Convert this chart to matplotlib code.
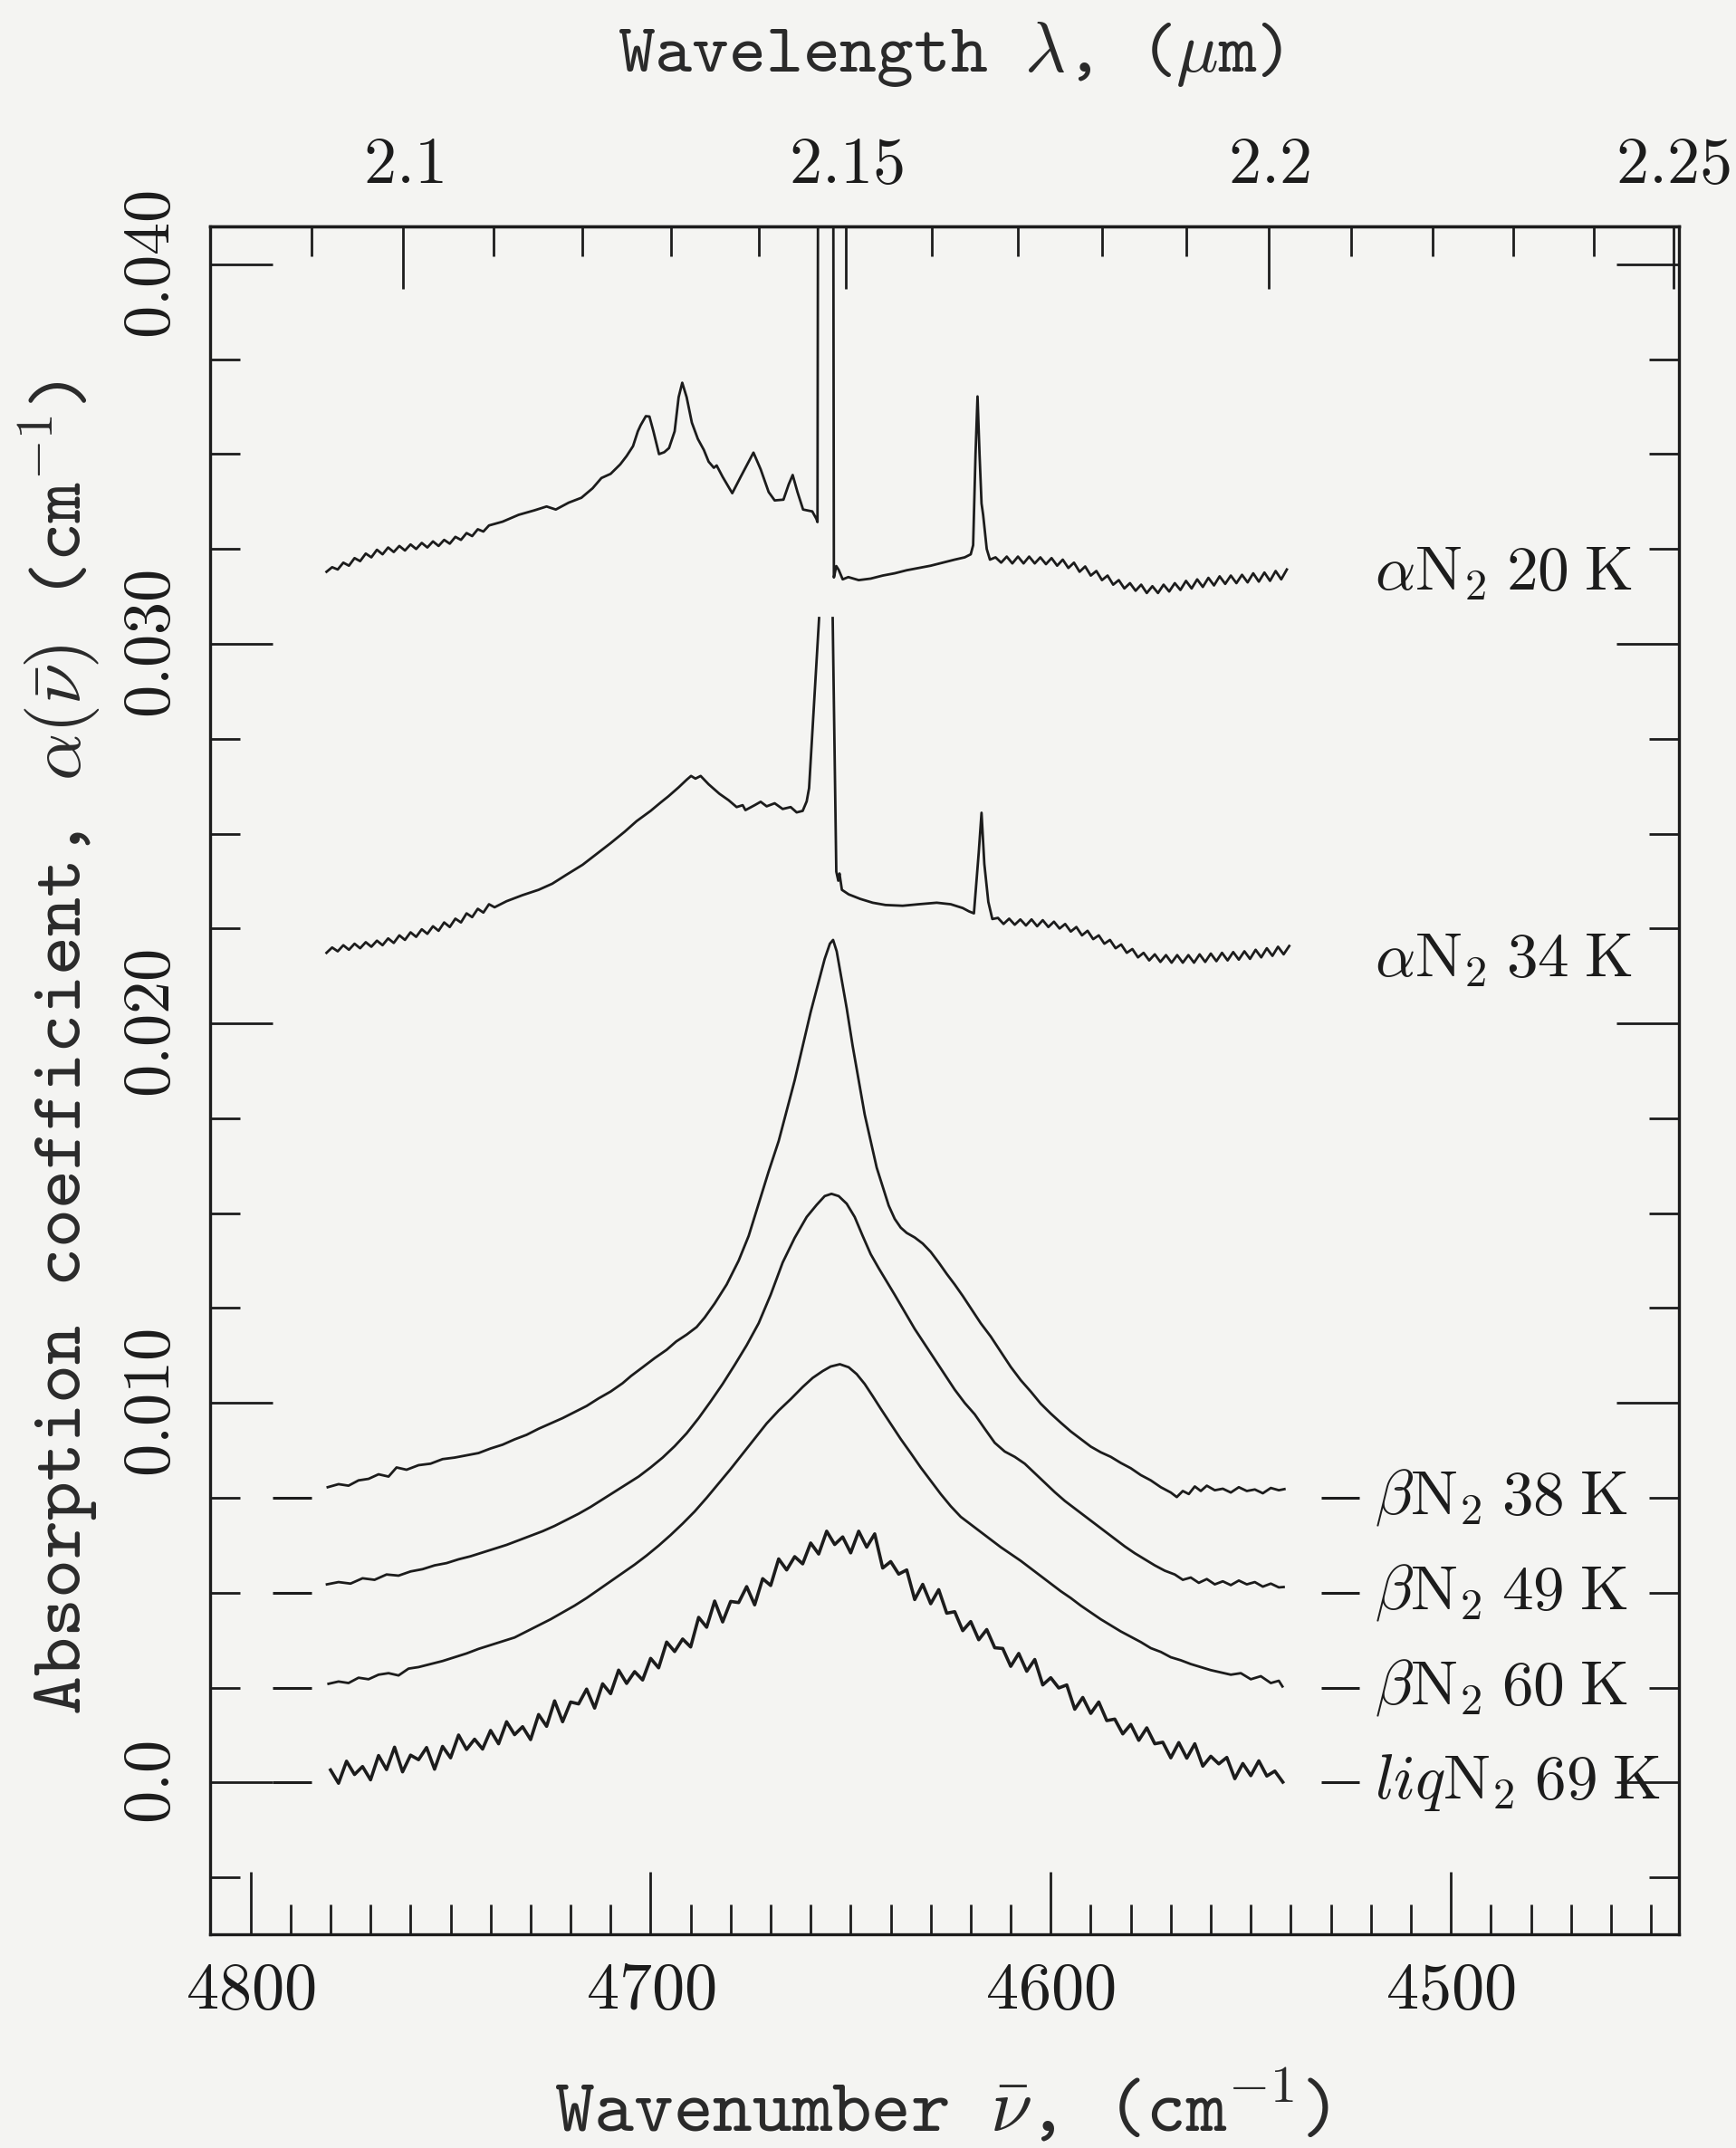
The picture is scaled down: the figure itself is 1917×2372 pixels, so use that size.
import numpy as np
import matplotlib
matplotlib.use("Agg")
import matplotlib.pyplot as plt
from matplotlib.ticker import FixedLocator

plt.rcParams['mathtext.fontset'] = 'cm'
plt.rcParams['font.family'] = ['cmtt10', 'DejaVu Sans']

nan = np.nan

# ---------------- data: (wavenumber cm^-1, absorption coefficient cm^-1) ----------------
alpha20K = [
    (4781.0, 0.03190), (4779.6, 0.03202), (4778.2, 0.03196), (4776.8, 0.03214), (4775.4, 0.03206),
    (4774.0, 0.03226), (4772.6, 0.03218), (4771.2, 0.03238), (4769.8, 0.03228), (4768.4, 0.03248),
    (4767.0, 0.03236), (4765.6, 0.03254), (4764.2, 0.03242), (4762.8, 0.03258), (4761.4, 0.03246),
    (4760.0, 0.03262), (4758.6, 0.03250), (4757.2, 0.03266), (4755.8, 0.03254), (4754.4, 0.03270),
    (4753.0, 0.03258), (4751.6, 0.03274), (4750.2, 0.03264), (4748.8, 0.03282), (4747.4, 0.03274),
    (4746.0, 0.03292), (4744.6, 0.03284), (4743.2, 0.03302), (4741.8, 0.03296), (4740.4, 0.03312),
    (4737.0, 0.03322), (4733.0, 0.03340), (4729.0, 0.03352), (4726.0, 0.03362), (4723.7, 0.03354),
    (4720.5, 0.03372), (4717.3, 0.03385), (4714.5, 0.03410), (4712.3, 0.03437), (4710.0, 0.03448),
    (4707.6, 0.03473), (4706.0, 0.03495), (4704.4, 0.03521), (4703.2, 0.03560), (4702.5, 0.03576),
    (4701.2, 0.03600), (4700.3, 0.03599), (4699.3, 0.03560), (4697.9, 0.03500), (4696.6, 0.03505),
    (4695.4, 0.03516), (4694.0, 0.03560), (4693.0, 0.03650), (4692.1, 0.03688), (4691.0, 0.03650),
    (4689.7, 0.03583), (4688.2, 0.03540), (4686.7, 0.03511), (4685.5, 0.03480), (4684.2, 0.03464),
    (4683.5, 0.03470), (4682.0, 0.03440), (4679.6, 0.03397), (4677.5, 0.03440), (4675.5, 0.03480),
    (4674.3, 0.03504), (4672.5, 0.03460), (4670.5, 0.03400), (4669.0, 0.03378), (4666.8, 0.03380),
    (4665.5, 0.03420), (4664.5, 0.03445), (4663.3, 0.03400), (4661.9, 0.03354), (4659.6, 0.03349),
    (4658.6, 0.03330), (4658.3, 0.03321), (4657.9, 0.06000), (4654.6, 0.06000), (4654.2, 0.03175),
    (4653.6, 0.03205), (4653.0, 0.03195), (4652.0, 0.03170), (4650.6, 0.03176), (4648.0, 0.03168),
    (4645.0, 0.03172), (4642.0, 0.03180), (4639.0, 0.03186), (4636.0, 0.03194), (4633.0, 0.03200),
    (4630.0, 0.03206), (4627.0, 0.03214), (4624.0, 0.03222), (4621.5, 0.03228), (4620.0, 0.03236),
    (4619.4, 0.03260), (4618.8, 0.03500), (4618.3, 0.03652), (4617.8, 0.03500), (4617.3, 0.03370),
    (4616.9, 0.03340), (4616.0, 0.03250), (4615.2, 0.03222), (4613.8, 0.03228), (4612.4, 0.03214),
    (4611.0, 0.03230), (4609.6, 0.03212), (4608.2, 0.03230), (4606.8, 0.03212), (4605.4, 0.03230),
    (4604.0, 0.03212), (4602.6, 0.03228), (4601.2, 0.03210), (4599.8, 0.03226), (4598.4, 0.03206),
    (4597.0, 0.03222), (4595.6, 0.03200), (4594.2, 0.03214), (4592.8, 0.03190), (4591.4, 0.03204),
    (4590.0, 0.03180), (4588.6, 0.03192), (4587.2, 0.03168), (4585.8, 0.03180), (4584.4, 0.03156),
    (4583.0, 0.03168), (4581.6, 0.03146), (4580.2, 0.03160), (4578.8, 0.03140), (4577.4, 0.03156),
    (4576.0, 0.03134), (4574.6, 0.03152), (4573.2, 0.03134), (4571.8, 0.03156), (4570.4, 0.03138),
    (4569.0, 0.03160), (4567.6, 0.03142), (4566.2, 0.03166), (4564.8, 0.03146), (4563.4, 0.03170),
    (4562.0, 0.03150), (4560.6, 0.03174), (4559.2, 0.03154), (4557.8, 0.03178), (4556.4, 0.03158),
    (4555.0, 0.03180), (4553.6, 0.03160), (4552.2, 0.03182), (4550.8, 0.03162), (4549.4, 0.03186),
    (4548.0, 0.03164), (4546.6, 0.03188), (4545.2, 0.03166), (4543.8, 0.03192), (4542.4, 0.03170),
    (4541.0, 0.03196)]

alpha34K = [
    (4781.0, 0.02186), (4779.6, 0.02200), (4778.2, 0.02190), (4776.8, 0.02206), (4775.4, 0.02194),
    (4774.0, 0.02210), (4772.6, 0.02198), (4771.2, 0.02214), (4769.8, 0.02202), (4768.4, 0.02218),
    (4767.0, 0.02206), (4765.6, 0.02224), (4764.2, 0.02212), (4762.8, 0.02232), (4761.4, 0.02220),
    (4760.0, 0.02240), (4758.6, 0.02228), (4757.2, 0.02248), (4755.8, 0.02236), (4754.4, 0.02256),
    (4753.0, 0.02244), (4751.6, 0.02266), (4750.2, 0.02254), (4748.8, 0.02276), (4747.4, 0.02266),
    (4746.0, 0.02290), (4744.6, 0.02280), (4743.2, 0.02302), (4741.8, 0.02292), (4740.4, 0.02314),
    (4739.0, 0.02306), (4736.0, 0.02322), (4732.0, 0.02338), (4728.0, 0.02352), (4724.6, 0.02368),
    (4721.0, 0.02392), (4717.0, 0.02418), (4713.3, 0.02448), (4710.0, 0.02475), (4706.5, 0.02505),
    (4703.5, 0.02533), (4700.0, 0.02560), (4697.5, 0.02582), (4695.6, 0.02598), (4693.0, 0.02622),
    (4691.0, 0.02642), (4689.9, 0.02652), (4688.8, 0.02645), (4687.5, 0.02652), (4685.5, 0.02630),
    (4682.8, 0.02605), (4680.5, 0.02588), (4678.5, 0.02570), (4677.0, 0.02575), (4676.3, 0.02562),
    (4674.0, 0.02575), (4672.5, 0.02584), (4671.0, 0.02572), (4669.0, 0.02580), (4667.0, 0.02565),
    (4665.0, 0.02570), (4663.5, 0.02556), (4662.0, 0.02560), (4661.0, 0.02585), (4660.4, 0.02620),
    (4657.9, 0.03068), (nan, nan), (4654.5, 0.03068), (4653.6, 0.02400), (4653.1, 0.02376),
    (4652.8, 0.02395), (4652.2, 0.02352), (4650.5, 0.02340), (4647.6, 0.02328), (4644.5, 0.02318),
    (4641.3, 0.02312), (4637.0, 0.02310), (4633.0, 0.02314), (4628.5, 0.02318), (4625.0, 0.02314),
    (4622.0, 0.02304), (4620.4, 0.02295), (4619.2, 0.02290), (4618.0, 0.02450), (4617.3, 0.02555),
    (4616.6, 0.02420), (4615.6, 0.02320), (4614.6, 0.02275), (4613.2, 0.02278), (4611.8, 0.02262),
    (4610.4, 0.02276), (4609.0, 0.02260), (4607.6, 0.02274), (4606.2, 0.02258), (4604.8, 0.02274),
    (4603.4, 0.02256), (4602.0, 0.02272), (4600.6, 0.02254), (4599.2, 0.02268), (4597.8, 0.02250),
    (4596.4, 0.02262), (4595.0, 0.02242), (4593.6, 0.02254), (4592.2, 0.02232), (4590.8, 0.02244),
    (4589.4, 0.02222), (4588.0, 0.02232), (4586.6, 0.02210), (4585.2, 0.02220), (4583.8, 0.02198),
    (4582.4, 0.02208), (4581.0, 0.02186), (4579.6, 0.02196), (4578.2, 0.02174), (4576.8, 0.02186),
    (4575.4, 0.02166), (4574.0, 0.02182), (4572.6, 0.02162), (4571.2, 0.02180), (4569.8, 0.02160),
    (4568.4, 0.02180), (4567.0, 0.02160), (4565.6, 0.02180), (4564.2, 0.02160), (4562.8, 0.02182),
    (4561.4, 0.02162), (4560.0, 0.02184), (4558.6, 0.02164), (4557.2, 0.02186), (4555.8, 0.02166),
    (4554.4, 0.02188), (4553.0, 0.02168), (4551.6, 0.02190), (4550.2, 0.02170), (4548.8, 0.02194),
    (4547.4, 0.02174), (4546.0, 0.02198), (4544.6, 0.02178), (4543.2, 0.02202), (4541.8, 0.02182),
    (4540.4, 0.02204)]

beta38K = [
    (4780.7, 0.00778), (4778.0, 0.00786), (4775.5, 0.00782), (4773.0, 0.00796), (4770.5, 0.00800),
    (4768.0, 0.00812), (4765.5, 0.00806), (4763.5, 0.00830), (4761.0, 0.00824), (4758.0, 0.00836),
    (4755.0, 0.00840), (4752.0, 0.00852), (4749.0, 0.00856), (4746.0, 0.00862), (4743.0, 0.00868),
    (4740.0, 0.00880), (4737.0, 0.00890), (4734.0, 0.00904), (4731.0, 0.00916), (4728.0, 0.00932),
    (4725.0, 0.00946), (4722.0, 0.00960), (4719.0, 0.00976), (4716.0, 0.00992), (4713.0, 0.01012),
    (4710.0, 0.01030), (4707.0, 0.01052), (4704.9, 0.01071), (4702.0, 0.01094), (4699.0, 0.01118),
    (4696.0, 0.01140), (4693.6, 0.01162), (4691.0, 0.01180), (4688.5, 0.01200), (4686.5, 0.01225),
    (4684.0, 0.01262), (4681.0, 0.01312), (4678.0, 0.01375), (4675.5, 0.01440), (4673.0, 0.01525),
    (4670.5, 0.01610), (4668.0, 0.01690), (4666.0, 0.01770), (4664.0, 0.01850), (4662.0, 0.01940),
    (4660.0, 0.02030), (4658.0, 0.02110), (4656.5, 0.02170), (4655.2, 0.02210), (4654.4, 0.02220),
    (4653.5, 0.02190), (4652.5, 0.02130), (4651.0, 0.02040), (4649.5, 0.01940), (4648.0, 0.01850),
    (4646.5, 0.01760), (4645.0, 0.01690), (4643.5, 0.01620), (4642.0, 0.01570), (4640.5, 0.01520),
    (4639.0, 0.01485), (4637.5, 0.01462), (4636.0, 0.01448), (4634.0, 0.01436), (4632.0, 0.01420),
    (4630.0, 0.01398), (4628.0, 0.01370), (4626.0, 0.01340), (4624.0, 0.01312), (4622.0, 0.01282),
    (4620.0, 0.01250), (4617.5, 0.01210), (4615.0, 0.01175), (4612.5, 0.01135), (4610.0, 0.01095),
    (4607.5, 0.01060), (4605.0, 0.01030), (4602.5, 0.00998), (4600.0, 0.00972), (4597.5, 0.00948),
    (4595.0, 0.00925), (4592.5, 0.00905), (4590.0, 0.00885), (4587.5, 0.00870), (4585.0, 0.00858),
    (4582.5, 0.00842), (4580.0, 0.00828), (4577.5, 0.00810), (4575.0, 0.00796), (4572.5, 0.00778),
    (4570.0, 0.00764), (4568.5, 0.00752), (4567.0, 0.00768), (4565.5, 0.00760), (4564.0, 0.00780),
    (4562.5, 0.00768), (4561.0, 0.00782), (4559.0, 0.00770), (4557.0, 0.00774), (4555.0, 0.00764),
    (4553.0, 0.00778), (4551.0, 0.00768), (4549.0, 0.00772), (4547.0, 0.00762), (4545.0, 0.00776),
    (4543.0, 0.00770), (4541.6, 0.00773)]

beta49K = [
    (4780.9, 0.00522), (4778.0, 0.00528), (4775.0, 0.00524), (4772.0, 0.00538), (4769.0, 0.00534),
    (4766.0, 0.00548), (4763.0, 0.00545), (4760.0, 0.00556), (4757.0, 0.00562), (4754.0, 0.00572),
    (4751.0, 0.00578), (4748.0, 0.00588), (4745.0, 0.00596), (4742.0, 0.00606), (4739.0, 0.00616),
    (4736.0, 0.00626), (4733.0, 0.00638), (4730.0, 0.00650), (4727.0, 0.00662), (4724.0, 0.00676),
    (4721.0, 0.00692), (4718.0, 0.00708), (4715.0, 0.00726), (4712.0, 0.00746), (4709.0, 0.00766),
    (4706.0, 0.00786), (4703.0, 0.00806), (4700.0, 0.00830), (4697.0, 0.00856), (4694.0, 0.00886),
    (4691.0, 0.00920), (4688.0, 0.00960), (4685.0, 0.01004), (4682.0, 0.01050), (4679.0, 0.01100),
    (4676.0, 0.01152), (4673.0, 0.01210), (4670.0, 0.01285), (4667.0, 0.01370), (4664.0, 0.01435),
    (4661.0, 0.01490), (4658.5, 0.01522), (4656.5, 0.01545), (4654.8, 0.01551), (4653.0, 0.01545),
    (4651.0, 0.01525), (4649.0, 0.01490), (4647.0, 0.01440), (4645.0, 0.01392), (4643.0, 0.01355),
    (4641.0, 0.01320), (4639.0, 0.01285), (4636.5, 0.01240), (4634.0, 0.01195), (4631.5, 0.01155),
    (4629.0, 0.01115), (4626.5, 0.01075), (4624.0, 0.01035), (4621.5, 0.01000), (4619.0, 0.00970),
    (4616.5, 0.00932), (4614.0, 0.00895), (4611.5, 0.00872), (4609.0, 0.00858), (4606.5, 0.00840),
    (4604.0, 0.00815), (4601.5, 0.00790), (4599.0, 0.00765), (4596.5, 0.00742), (4594.0, 0.00722),
    (4591.5, 0.00702), (4589.0, 0.00682), (4586.5, 0.00662), (4584.0, 0.00642), (4581.5, 0.00622),
    (4579.0, 0.00604), (4576.5, 0.00588), (4574.0, 0.00572), (4571.5, 0.00558), (4569.0, 0.00548),
    (4567.0, 0.00534), (4565.0, 0.00540), (4563.0, 0.00526), (4561.0, 0.00536), (4559.0, 0.00522),
    (4557.0, 0.00530), (4555.0, 0.00520), (4553.0, 0.00532), (4551.0, 0.00522), (4549.0, 0.00528),
    (4547.0, 0.00516), (4545.0, 0.00524), (4543.0, 0.00514), (4541.8, 0.00515)]

beta60K = [
    (4780.5, 0.00260), (4778.0, 0.00266), (4775.5, 0.00262), (4773.0, 0.00276), (4770.5, 0.00272),
    (4768.0, 0.00284), (4765.5, 0.00288), (4763.0, 0.00282), (4760.5, 0.00300), (4758.0, 0.00304),
    (4755.0, 0.00312), (4752.0, 0.00320), (4749.0, 0.00330), (4746.0, 0.00340), (4743.0, 0.00352),
    (4740.0, 0.00362), (4737.0, 0.00372), (4734.0, 0.00382), (4731.0, 0.00398), (4728.0, 0.00414),
    (4725.0, 0.00430), (4722.0, 0.00448), (4719.0, 0.00466), (4716.0, 0.00486), (4713.0, 0.00508),
    (4710.0, 0.00530), (4707.0, 0.00552), (4704.0, 0.00574), (4701.0, 0.00598), (4698.0, 0.00624),
    (4695.0, 0.00652), (4692.0, 0.00682), (4689.0, 0.00714), (4686.0, 0.00750), (4683.0, 0.00788),
    (4680.0, 0.00826), (4677.0, 0.00866), (4674.0, 0.00906), (4671.0, 0.00946), (4668.0, 0.00980),
    (4665.0, 0.01010), (4662.0, 0.01042), (4659.5, 0.01066), (4657.0, 0.01084), (4655.0, 0.01096),
    (4652.7, 0.01102), (4650.5, 0.01094), (4648.5, 0.01076), (4646.5, 0.01050), (4644.5, 0.01018),
    (4642.5, 0.00985), (4640.0, 0.00945), (4637.5, 0.00905), (4635.0, 0.00868), (4632.5, 0.00830),
    (4630.0, 0.00795), (4627.5, 0.00760), (4625.0, 0.00728), (4622.5, 0.00700), (4620.0, 0.00680),
    (4617.5, 0.00660), (4615.0, 0.00640), (4612.5, 0.00620), (4610.0, 0.00602), (4607.5, 0.00584),
    (4605.0, 0.00564), (4602.5, 0.00544), (4600.0, 0.00524), (4597.5, 0.00504), (4595.0, 0.00486),
    (4592.5, 0.00466), (4590.0, 0.00448), (4587.5, 0.00430), (4585.0, 0.00414), (4582.5, 0.00398),
    (4580.0, 0.00384), (4577.5, 0.00370), (4575.0, 0.00354), (4572.5, 0.00344), (4570.0, 0.00330),
    (4567.5, 0.00322), (4565.0, 0.00312), (4562.5, 0.00304), (4560.0, 0.00296), (4557.5, 0.00290),
    (4555.0, 0.00284), (4552.5, 0.00288), (4550.0, 0.00272), (4547.5, 0.00280), (4545.0, 0.00262),
    (4543.0, 0.00268), (4542.1, 0.00253)]

liquid69K = [
    (4780, 0.00033), (4778, -0.00002), (4776, 0.00056), (4774, 0.00021), (4772, 0.00042),
    (4770, 0.00007), (4768, 0.00071), (4766, 0.00034), (4764, 0.00093), (4762, 0.00028),
    (4760, 0.00072), (4758, 0.00060), (4756, 0.00092), (4754, 0.00035), (4752, 0.00095),
    (4750, 0.00065), (4748, 0.00125), (4746, 0.00087), (4744, 0.00114), (4742, 0.00088),
    (4740, 0.00137), (4738, 0.00102), (4736, 0.00160), (4734, 0.00126), (4732, 0.00147),
    (4730, 0.00113), (4728, 0.00179), (4726, 0.00148), (4724, 0.00215), (4722, 0.00160),
    (4720, 0.00212), (4718, 0.00207), (4716, 0.00246), (4714, 0.00196), (4712, 0.00260),
    (4710, 0.00234), (4708, 0.00296), (4706, 0.00261), (4704, 0.00292), (4702, 0.00270),
    (4700, 0.00327), (4698, 0.00302), (4696, 0.00370), (4694, 0.00345), (4692, 0.00378),
    (4690, 0.00357), (4688, 0.00435), (4686, 0.00409), (4684, 0.00478), (4682, 0.00423),
    (4680, 0.00477), (4678, 0.00474), (4676, 0.00516), (4674, 0.00468), (4672, 0.00537),
    (4670, 0.00519), (4668, 0.00589), (4666, 0.00560), (4664, 0.00595), (4662, 0.00576),
    (4660, 0.00631), (4658, 0.00602), (4656, 0.00662), (4654, 0.00627), (4652, 0.00647),
    (4650, 0.00605), (4648, 0.00662), (4646, 0.00620), (4644, 0.00655), (4642, 0.00565),
    (4640, 0.00582), (4638, 0.00549), (4636, 0.00560), (4634, 0.00482), (4632, 0.00522),
    (4630, 0.00471), (4628, 0.00508), (4626, 0.00446), (4624, 0.00450), (4622, 0.00400),
    (4620, 0.00424), (4618, 0.00376), (4616, 0.00403), (4614, 0.00355), (4612, 0.00353),
    (4610, 0.00306), (4608, 0.00340), (4606, 0.00293), (4604, 0.00324), (4602, 0.00257),
    (4600, 0.00276), (4598, 0.00249), (4596, 0.00257), (4594, 0.00193), (4592, 0.00224),
    (4590, 0.00182), (4588, 0.00212), (4586, 0.00163), (4584, 0.00167), (4582, 0.00128),
    (4580, 0.00153), (4578, 0.00111), (4576, 0.00144), (4574, 0.00102), (4572, 0.00106),
    (4570, 0.00065), (4568, 0.00105), (4566, 0.00064), (4564, 0.00102), (4562, 0.00043),
    (4560, 0.00069), (4558, 0.00049), (4556, 0.00066), (4554, 0.00010), (4552, 0.00050),
    (4550, 0.00018), (4548, 0.00057), (4546, 0.00017), (4544, 0.00030), (4542, 0.00001)]

series = [alpha20K, alpha34K, beta38K, beta49K, beta60K, liquid69K]
series_lw = [2.0, 2.0, 2.0, 2.0, 2.0, 2.6]

labels = [r'$\alpha\mathrm{N}_2\;20\;\mathrm{K}$', r'$\alpha\mathrm{N}_2\;34\;\mathrm{K}$',
          r'$\beta\mathrm{N}_2\;38\;\mathrm{K}$', r'$\beta\mathrm{N}_2\;49\;\mathrm{K}$',
          r'$\beta\mathrm{N}_2\;60\;\mathrm{K}$', r'$\mathit{liq}\mathrm{N}_2\;69\;\mathrm{K}$']
label_y = [0.0318, 0.0216, 0.0075, 0.005, 0.0025, 0.0]

# zero levels of the vertically offset spectra (short dashes at both sides)
zero_levels = [0.0075, 0.005, 0.0025, 0.0]

x_major = [4800, 4700, 4600, 4500]
x_major_labels = ['4800', '4700', '4600', '4500']
y_major = [0.0, 0.01, 0.02, 0.03, 0.04]
y_major_labels = ['0.0', '0.010', '0.020', '0.030', '0.040']
lam_major = [2.1, 2.15, 2.2, 2.25]
lam_major_labels = ['2.1', '2.15', '2.2', '2.25']

# ---------------- figure ----------------
W, H = 1917, 2372
bg = '#f4f4f2'
ink = '#1c1c1c'
fig = plt.figure(figsize=(W / 100, H / 100), dpi=100, facecolor=bg)
L, R, T, B = 232, 1854, 250, 2136
ax = fig.add_axes([L / W, 1 - B / H, (R - L) / W, (B - T) / H])
ax.set_facecolor(bg)

for data, lw in zip(series, series_lw):
    arr = np.array(data, dtype=float)
    ax.plot(arr[:, 0], arr[:, 1], color=ink, lw=lw, solid_joinstyle='round')

for z in zero_levels:
    ax.plot([4794.5, 4784.7], [z, z], color=ink, lw=2.2, solid_capstyle='butt')
    ax.plot([4532.5, 4523.0], [z, z], color=ink, lw=2.2, solid_capstyle='butt')

for lab, yv in zip(labels, label_y):
    ax.text(4519.0, yv, lab, fontsize=50, color=ink, ha='left', va='center')

ax.set_xlim(4810.1, 4443.0)
ax.set_ylim(-0.004, 0.041)

ax.set_xticks(x_major, labels=['$%s$' % s for s in x_major_labels])
ax.xaxis.set_minor_locator(FixedLocator(np.arange(4450, 4811, 10)))
ax.set_yticks(y_major, labels=['$%s$' % s for s in y_major_labels], rotation=90, va='center')
ax.yaxis.set_minor_locator(FixedLocator(np.arange(-0.0025, 0.0401, 0.0025)))

ax.tick_params(which='both', direction='in', top=False, right=True, width=2.0,
               colors=ink, labelcolor=ink)
ax.tick_params(which='major', length=50, labelsize=52)
ax.tick_params(which='minor', length=24)
ax.tick_params(axis='x', which='major', pad=27)
ax.tick_params(axis='y', which='major', pad=21)
for sp in ax.spines.values():
    sp.set_linewidth(2.4)
    sp.set_color(ink)


def nu_to_lam(v):
    v = np.asarray(v, dtype=float)
    with np.errstate(divide='ignore', invalid='ignore'):
        return 1e4 / v


secax = ax.secondary_xaxis('top', functions=(nu_to_lam, nu_to_lam))
secax.set_xticks(lam_major, labels=['$%s$' % s for s in lam_major_labels])
secax.xaxis.set_minor_locator(FixedLocator(np.arange(2.09, 2.2551, 0.01)))
secax.tick_params(which='both', direction='in', width=2.0, colors=ink, labelcolor=ink)
secax.tick_params(which='major', length=50, labelsize=52, pad=23)
secax.tick_params(which='minor', length=24)
for sp in secax.spines.values():
    sp.set_linewidth(2.4)
    sp.set_color(ink)

fig.text(1040 / W, 1 - 2330 / H, r'Wavenumber $\bar{\nu}$, (cm$^{-1}$)',
         ha='center', va='center', fontsize=60, color='#2a2a2a')
fig.text(1049 / W, 1 - 60 / H, r'Wavelength $\lambda$, ($\mu$m)',
         ha='center', va='center', fontsize=56, color='#2a2a2a')
fig.text(66 / W, 1 - 1157 / H, r'Absorption coefficient, $\alpha(\bar{\nu})$ (cm$^{-1}$)',
         rotation=90, ha='center', va='center', fontsize=59, color='#2a2a2a')

fig.savefig('out.png', dpi=100, facecolor=bg)
